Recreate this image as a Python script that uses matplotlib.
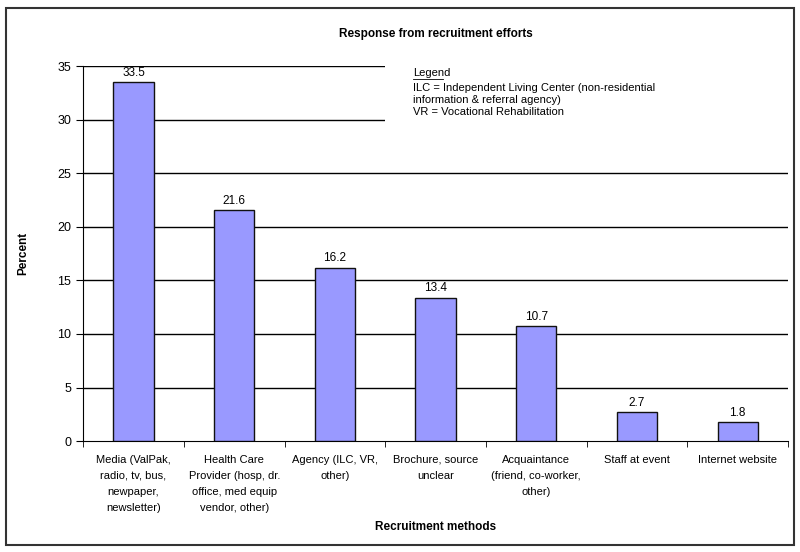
import matplotlib
matplotlib.use("Agg")
import matplotlib.pyplot as plt
from matplotlib.patches import Rectangle

categories = [
    "Media (ValPak,\nradio, tv, bus,\nnewpaper,\nnewsletter)",
    "Health Care\nProvider (hosp, dr.\noffice, med equip\nvendor, other)",
    "Agency (ILC, VR,\nother)",
    "Brochure, source\nunclear",
    "Acquaintance\n(friend, co-worker,\nother)",
    "Staff at event",
    "Internet website",
]
percent = [33.5, 21.6, 16.2, 13.4, 10.7, 2.7, 1.8]
yticks = [0, 5, 10, 15, 20, 25, 30, 35]

plt.rcParams['font.family'] = ['Liberation Sans', 'DejaVu Sans']

fig = plt.figure(figsize=(8, 5.52), dpi=100)
fig.patches.append(Rectangle((0.007, 0.013), 0.986, 0.972, transform=fig.transFigure,
                             fill=False, edgecolor="#333333", linewidth=1.5))

ax = fig.add_axes([0.104, 0.201, 0.881, 0.679])
x = list(range(len(categories)))

for y in yticks[1:]:
    ax.axhline(y, color="black", linewidth=1.0, zorder=1)

ax.bar(x, percent, width=0.40, color="#9999ff", edgecolor="#111111", linewidth=1.0, zorder=3)
for xi, v in zip(x, percent):
    ax.text(xi, v + 0.3, f"{v}", ha="center", va="bottom", fontsize=8.5, zorder=4)

ax.set_xlim(-0.5, len(categories) - 0.5)
ax.set_ylim(0, 35)
ax.set_yticks(yticks)
ax.tick_params(axis="y", direction="out", length=5, labelsize=9)
ax.set_xticks(x)
ax.set_xticklabels(categories, fontsize=8, linespacing=1.75)
ax.tick_params(axis="x", length=0, pad=10)
ax.set_xticks([i + 0.5 for i in range(-1, len(categories))], minor=True)
ax.tick_params(axis="x", which="minor", direction="out", length=4)

for s in ["top", "right"]:
    ax.spines[s].set_visible(False)

# legend box covering the upper gridlines
ax.add_patch(Rectangle((2.5, 29.6), 4.1, 6.0, facecolor="white", edgecolor="none",
                       zorder=2, clip_on=False))
ax.text(2.78, 34.4, "Legend", fontsize=8, va="center", zorder=4)
ax.plot([2.78, 3.07], [33.85, 33.85], color="black", linewidth=0.6, zorder=4)
ax.text(2.78, 33.4, "ILC = Independent Living Center (non-residential\ninformation & referral agency)\nVR = Vocational Rehabilitation",
        fontsize=8, va="top", linespacing=1.2, zorder=4)

ax.set_title("Response from recruitment efforts", fontsize=8.5, fontweight="bold", pad=21)
ax.set_ylabel("Percent", fontsize=8.5, fontweight="bold", labelpad=20)
ax.set_xlabel("Recruitment methods", fontsize=8.5, fontweight="bold", labelpad=6)

fig.savefig("out.png", dpi=100)
